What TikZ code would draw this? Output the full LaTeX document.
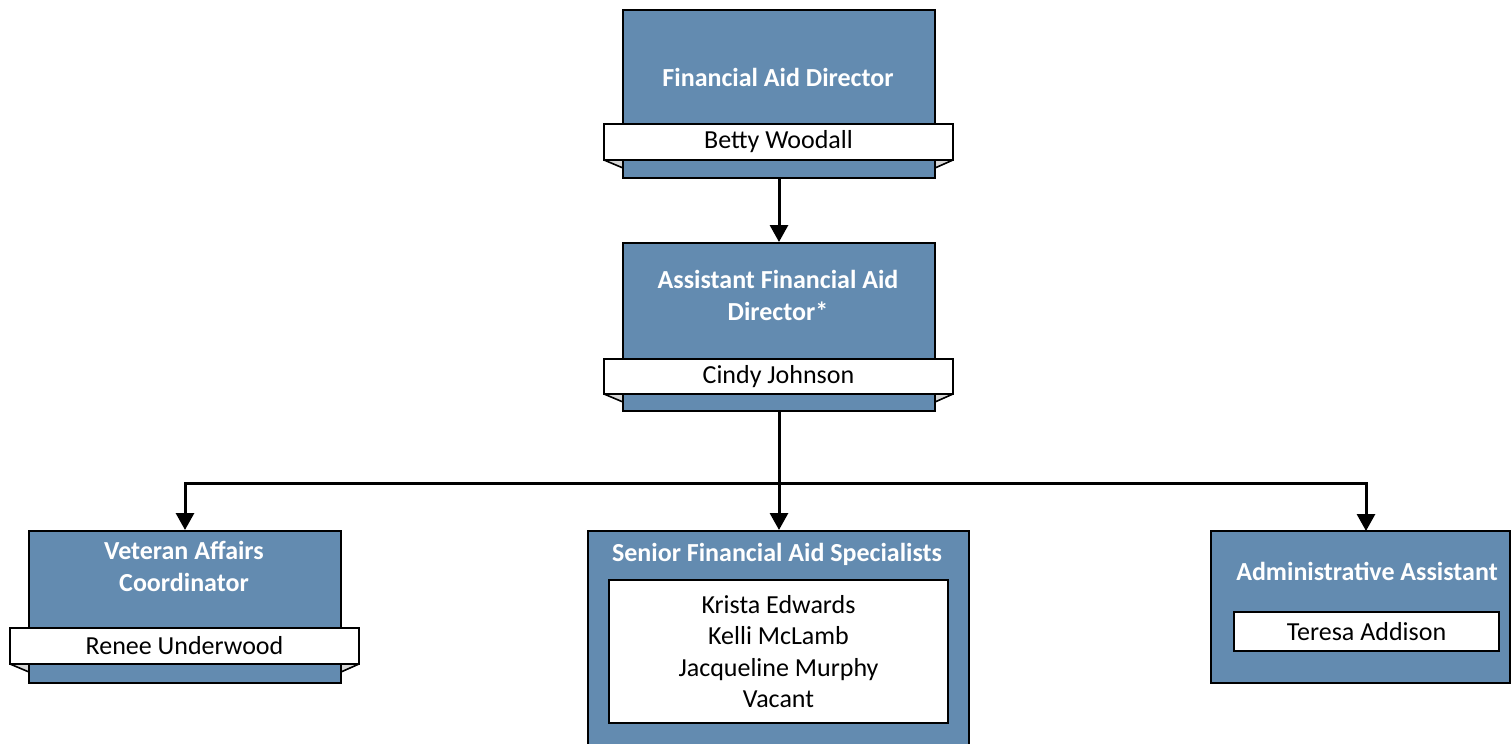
\documentclass[tikz,border=0pt]{standalone}
\usepackage{fontspec}
\setmainfont{Carlito}
\usetikzlibrary{arrows.meta,positioning}

\definecolor{rolefill}{RGB}{99,139,176}
\definecolor{foldgray}{RGB}{215,215,215}

\tikzset{
  rolebox/.style={draw=black, fill=rolefill, line width=1pt, inner sep=0pt},
  roletitle/.style={text=white, font=\fontsize{13}{16}\selectfont\bfseries, align=center},
  namebox/.style={draw=black, fill=white, line width=1pt, inner sep=0pt,
    font=\fontsize{13}{15.75}\selectfont, align=center},
  fold/.style={draw=black, fill=foldgray, line width=0.8pt, line join=round},
  link/.style={line width=1.5pt, -{Triangle[length=8.5pt,width=9pt]}}
}

\begin{document}
\begin{tikzpicture}[x=0.5pt, y=-0.5pt]
    \useasboundingbox (0,0) rectangle (1511,744);

    % Financial Aid Director
    \node[rolebox, minimum width=156pt, minimum height=84pt] (dir) at (779,94) {};
    \node[roletitle] (dirtitle) at (778,77) {Financial Aid Director};
    \filldraw[fold] (604,160) -- (623,168) -- (623,160) -- cycle;
    \filldraw[fold] (953,160) -- (935,168) -- (935,160) -- cycle;
    \node[namebox, minimum width=174.5pt, minimum height=18pt] (dirname) at (778.5,142) {Betty Woodall};

    % Assistant Financial Aid Director
    \node[rolebox, minimum width=156pt, minimum height=84pt] (asst) at (779,327) {};
    \node[roletitle] (asstitle) at (778,295) {Assistant Financial Aid\\Director*};
    \filldraw[fold] (604,394) -- (623,402) -- (623,394) -- cycle;
    \filldraw[fold] (953,394) -- (935,402) -- (935,394) -- cycle;
    \node[namebox, minimum width=174.5pt, minimum height=17.5pt] (asstname) at (778.5,376.5) {Cindy Johnson};

    % Veteran Affairs Coordinator
    \node[rolebox, minimum width=156pt, minimum height=76pt] (vet) at (185,607) {};
    \node[roletitle] (vettitle) at (184,566) {Veteran Affairs\\Coordinator};
    \filldraw[fold] (10,664) -- (29,672) -- (29,664) -- cycle;
    \filldraw[fold] (359,664) -- (341,672) -- (341,664) -- cycle;
    \node[namebox, minimum width=174.5pt, minimum height=18pt] (vetname) at (184.5,646) {Renee Underwood};

    % Senior Financial Aid Specialists
    \node[rolebox, minimum width=190.5pt, minimum height=110.5pt] (senior) at (778.5,641.5) {};
    \node[roletitle] (seniortitle) at (777,554) {Senior Financial Aid Specialists};
    \node[namebox, minimum width=169.5pt, minimum height=71.5pt] (seniornames) at (778.5,651.5)
      {Krista Edwards\\Kelli McLamb\\Jacqueline Murphy\\Vacant};

    % Administrative Assistant
    \node[rolebox, minimum width=149.5pt, minimum height=76pt] (admin) at (1360.5,607) {};
    \node[roletitle] (admintitle) at (1367,571) {Administrative Assistant};
    \node[namebox, minimum width=132.5pt, minimum height=19.5pt] (adminname) at (1366.5,631.5) {Teresa Addison};

    % Reporting lines
    \coordinate (hub) at (779,483);
    \coordinate (admintop) at (1366,531);
    \draw[link] (dir) -- (asst);
    \draw[line width=1.5pt] (asst.south) -- (hub);
    \draw[link] (hub) -| (vet.north);
    \draw[link] (hub) -- (hub |- senior.north);
    \draw[link] (hub) -| (admintop);
\end{tikzpicture}
\end{document}
